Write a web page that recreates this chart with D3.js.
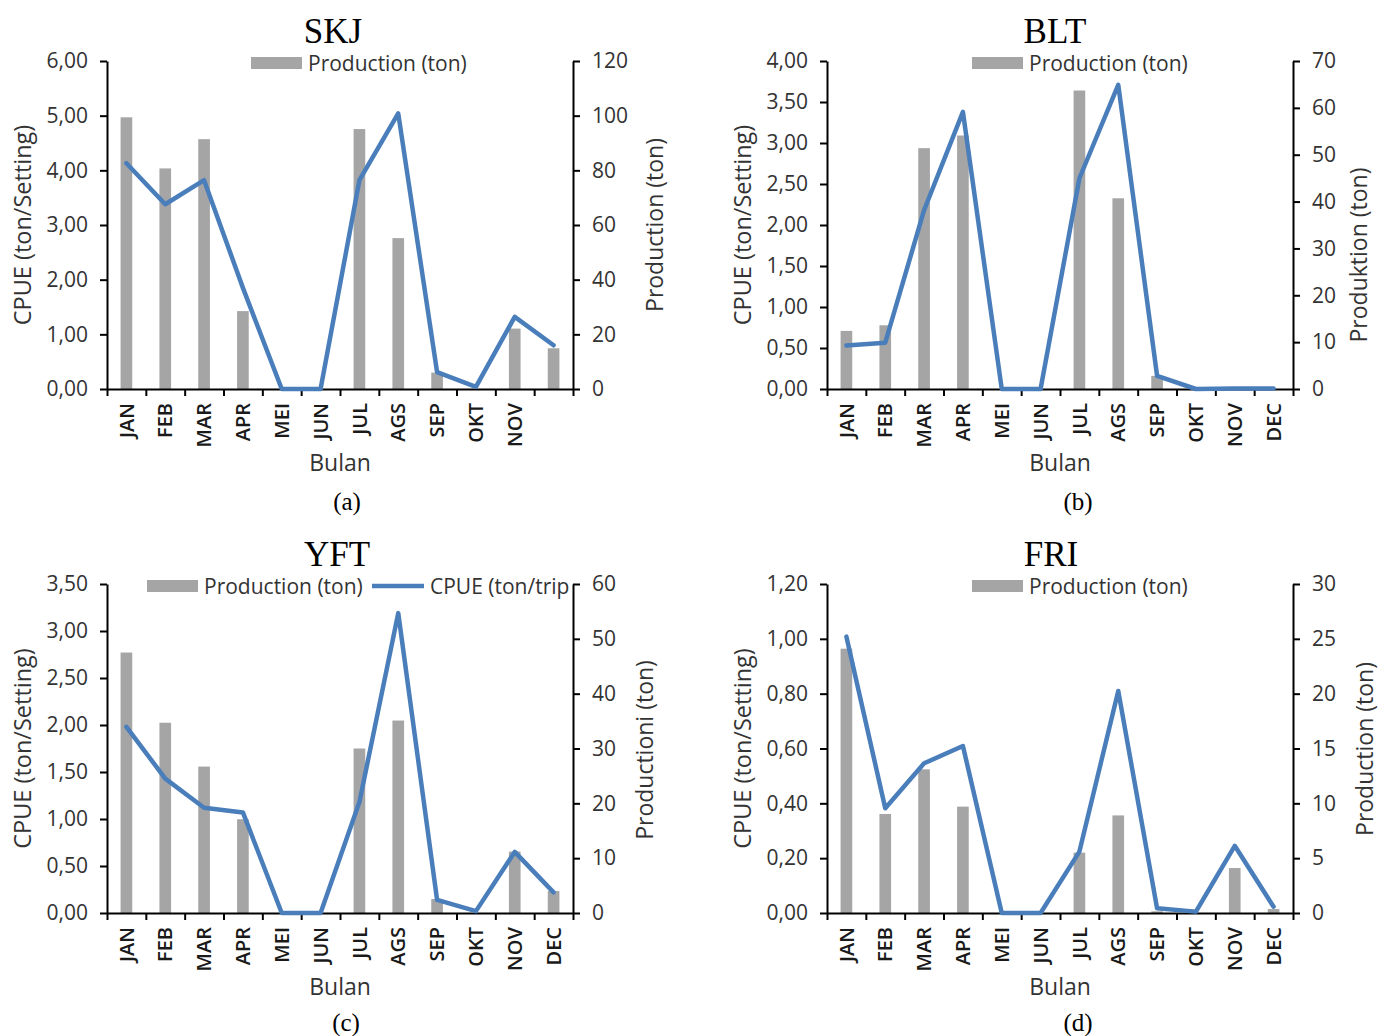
<!DOCTYPE html>
<html>
<head>
<meta charset="utf-8">
<script src="https://cdn.jsdelivr.net/npm/d3@7"></script>
<style>
    body { margin: 0; background: #fff; }
    svg { display: block; }
</style>
</head>
<body>
<div id="chart"></div>
<script>
// Month categories and tick labels
const months = ["JAN", "FEB", "MAR", "APR", "MEI", "JUN", "JUL", "AGS", "SEP", "OKT", "NOV", "DEC"];
const monthLabelsA = ["JAN", "FEB", "MAR", "APR", "MEI", "JUN", "JUL", "AGS", "SEP", "OKT", "NOV", ""];

// SKJ
const skjProduction = [99.4, 80.7, 91.4, 28.5, 0, 0, 95.1, 55.2, 6.0, 0, 22.1, 14.9];
const skjCpue = [4.13, 3.38, 3.82, 1.85, 0, 0, 3.82, 5.04, 0.31, 0.04, 1.32, 0.80];
// BLT
const bltProduction = [12.4, 13.6, 51.4, 54.1, 0, 0, 63.7, 40.7, 2.8, 0, 0, 0];
const bltCpue = [0.53, 0.565, 2.18, 3.38, 0, 0, 2.57, 3.71, 0.16, 0, 0.005, 0.005];
// YFT
const yftProduction = [47.5, 34.7, 26.7, 17.1, 0, 0, 30.0, 35.1, 2.55, 0, 11.2, 4.0];
const yftCpue = [1.98, 1.43, 1.12, 1.07, 0, 0, 1.18, 3.19, 0.14, 0.02, 0.65, 0.22];
// FRI
const friProduction = [24.1, 9.03, 13.1, 9.7, 0, 0, 5.5, 8.9, 0.15, 0, 4.1, 0.36];
const friCpue = [1.008, 0.382, 0.546, 0.609, 0, 0, 0.224, 0.81, 0.017, 0.005, 0.245, 0.023];

const W = 1379, H = 1036;
const barColor = "#a5a5a5";
const lineColor = "#4a7ebb";
const textGrey = "#333";
const sans = "'Open Sans', sans-serif";
const serif = "'Liberation Serif', 'Times New Roman', serif";

const svg = d3.select("#chart").append("svg")
    .attr("width", W)
    .attr("height", H);
svg.append("rect").attr("width", W).attr("height", H).attr("fill", "#fff");

const panels = [
    {title: "SKJ", caption: "(a)", left: 107, top: 61, bottom: 389, titleX: 333, titleY: 43, captionX: 347, captionY: 510,
     prod: skjProduction, cpue: skjCpue, cpueMax: 6, cpueStep: 1, prodMax: 120, prodStep: 20,
     rightTitle: "Production (ton)", rightOff: 90, rightMid: 225, labels: monthLabelsA, legendX: 251, legendLine: false},
    {title: "BLT", caption: "(b)", left: 827, top: 61, bottom: 389, titleX: 1055, titleY: 43, captionX: 1078, captionY: 510,
     prod: bltProduction, cpue: bltCpue, cpueMax: 4, cpueStep: 0.5, prodMax: 70, prodStep: 10,
     rightTitle: "Produktion (ton)", rightOff: 74, rightMid: 255, labels: months, legendX: 972, legendLine: false},
    {title: "YFT", caption: "(c)", left: 107, top: 584, bottom: 913, titleX: 337, titleY: 566, captionX: 346, captionY: 1031,
     prod: yftProduction, cpue: yftCpue, cpueMax: 3.5, cpueStep: 0.5, prodMax: 60, prodStep: 10,
     rightTitle: "Productioni (ton)", rightOff: 80, rightMid: 750, labels: months, legendX: 147, legendLine: true},
    {title: "FRI", caption: "(d)", left: 827, top: 584, bottom: 913, titleX: 1051, titleY: 566, captionX: 1078, captionY: 1031,
     prod: friProduction, cpue: friCpue, cpueMax: 1.2, cpueStep: 0.2, prodMax: 30, prodStep: 5,
     rightTitle: "Production (ton)", rightOff: 80, rightMid: 749, labels: months, legendX: 972, legendLine: false}
];

const plotWidth = 466;
const commaFmt = d3.format(".2f");

panels.forEach(function (p) {
    let g = svg.append("g").attr("class", "panel");
    let x0 = p.left, x1 = p.left + plotWidth;

    // Scales
    let xBand = d3.scaleBand().domain(months).range([x0, x1]);
    let xEdge = d3.scaleLinear().domain([0, 12]).range([x0, x1]);
    let yL = d3.scaleLinear().domain([0, p.cpueMax]).range([p.bottom, p.top]);
    let yR = d3.scaleLinear().domain([0, p.prodMax]).range([p.bottom, p.top]);

    let data = months.map(function (m, i) {
        return {month: m, label: p.labels[i], prod: p.prod[i], cpue: p.cpue[i]};
    });

    // Bars (production, right axis)
    let barW = xBand.bandwidth() * 0.3;
    g.append("g").selectAll("rect")
        .data(data)
        .enter().append("rect")
        .attr("x", d => xBand(d.month) + xBand.bandwidth() / 2 - barW / 2)
        .attr("y", d => yR(d.prod))
        .attr("width", barW)
        .attr("height", d => p.bottom - yR(d.prod))
        .attr("fill", barColor);

    // Axes
    let leftTicks = d3.range(0, p.cpueMax + p.cpueStep / 2, p.cpueStep);
    let leftAxis = g.append("g")
        .attr("transform", `translate(${x0},0)`)
        .call(d3.axisLeft(yL).tickValues(leftTicks).tickSize(7).tickSizeOuter(0).tickPadding(12)
            .tickFormat(d => commaFmt(d).replace(".", ",")));

    let rightTicks = d3.range(0, p.prodMax + p.prodStep / 2, p.prodStep);
    let rightAxis = g.append("g")
        .attr("transform", `translate(${x1},0)`)
        .call(d3.axisRight(yR).tickValues(rightTicks).tickSize(7).tickSizeOuter(0).tickPadding(12)
            .tickFormat(d3.format("d")));

    let bottomAxis = g.append("g")
        .attr("transform", `translate(0,${p.bottom})`)
        .call(d3.axisBottom(xEdge).tickValues(d3.range(13)).tickSize(7).tickSizeOuter(0).tickFormat(""));

    [leftAxis, rightAxis, bottomAxis].forEach(function (a) {
        a.select(".domain").attr("stroke", "#000").attr("stroke-width", 2);
        a.selectAll(".tick line").attr("stroke", "#000").attr("stroke-width", 2);
        a.selectAll(".tick text")
            .attr("fill", textGrey)
            .style("font-family", sans)
            .style("font-size", "21px");
    });

    // Month labels, rotated
    g.append("g").selectAll("text")
        .data(data)
        .enter().append("text")
        .text(d => d.label)
        .attr("transform", d => `translate(${xBand(d.month) + xBand.bandwidth() / 2},${p.bottom + 14}) rotate(-90)`)
        .attr("dy", "0.36em")
        .attr("text-anchor", "end")
        .style("font-family", sans)
        .style("font-size", "20px")
        .style("font-weight", 600)
        .attr("fill", "#1a1a1a");

    // CPUE line (left axis)
    let line = d3.line()
        .x(d => xBand(d.month) + xBand.bandwidth() / 2)
        .y(d => yL(d.cpue));
    g.append("path")
        .datum(data)
        .attr("d", line)
        .attr("fill", "none")
        .attr("stroke", lineColor)
        .attr("stroke-width", 4.5)
        .attr("stroke-linejoin", "round")
        .attr("stroke-linecap", "round");

    // Titles
    g.append("text")
        .text(p.title)
        .attr("x", p.titleX).attr("y", p.titleY)
        .attr("text-anchor", "middle")
        .style("font-family", serif)
        .style("font-size", "35px")
        .attr("fill", "#000");
    g.append("text")
        .text(p.caption)
        .attr("x", p.captionX).attr("y", p.captionY)
        .attr("text-anchor", "middle")
        .style("font-family", serif)
        .style("font-size", "25px")
        .attr("fill", "#000");
    g.append("text")
        .text("Bulan")
        .attr("x", (x0 + x1) / 2).attr("y", p.bottom + 82)
        .attr("text-anchor", "middle")
        .style("font-family", sans)
        .style("font-size", "23px")
        .attr("fill", textGrey);
    g.append("text")
        .text("CPUE (ton/Setting)")
        .attr("transform", `translate(${x0 - 76},${(p.top + p.bottom) / 2}) rotate(-90)`)
        .attr("text-anchor", "middle")
        .style("font-family", sans)
        .style("font-size", "23.5px")
        .attr("fill", textGrey);
    g.append("text")
        .text(p.rightTitle)
        .attr("transform", `translate(${x1 + p.rightOff},${p.rightMid}) rotate(-90)`)
        .attr("text-anchor", "middle")
        .style("font-family", sans)
        .style("font-size", "23px")
        .attr("fill", textGrey);

    // Legend
    let lg = g.append("g").attr("transform", `translate(${p.legendX},${p.top - 4})`);
    lg.append("rect")
        .attr("x", 0).attr("y", 0)
        .attr("width", 51).attr("height", 12)
        .attr("fill", barColor);
    lg.append("text")
        .text("Production (ton)")
        .attr("x", 57).attr("y", 14)
        .style("font-family", sans)
        .style("font-size", "21px")
        .attr("fill", textGrey);
    if (p.legendLine) {
        lg.append("line")
            .attr("x1", 225).attr("x2", 277)
            .attr("y1", 6).attr("y2", 6)
            .attr("stroke", lineColor)
            .attr("stroke-width", 4.5);
        lg.append("text")
            .text("CPUE (ton/trip")
            .attr("x", 283).attr("y", 14)
            .style("font-family", sans)
            .style("font-size", "21px")
            .attr("fill", textGrey);
    }
});
</script>
</body>
</html>
